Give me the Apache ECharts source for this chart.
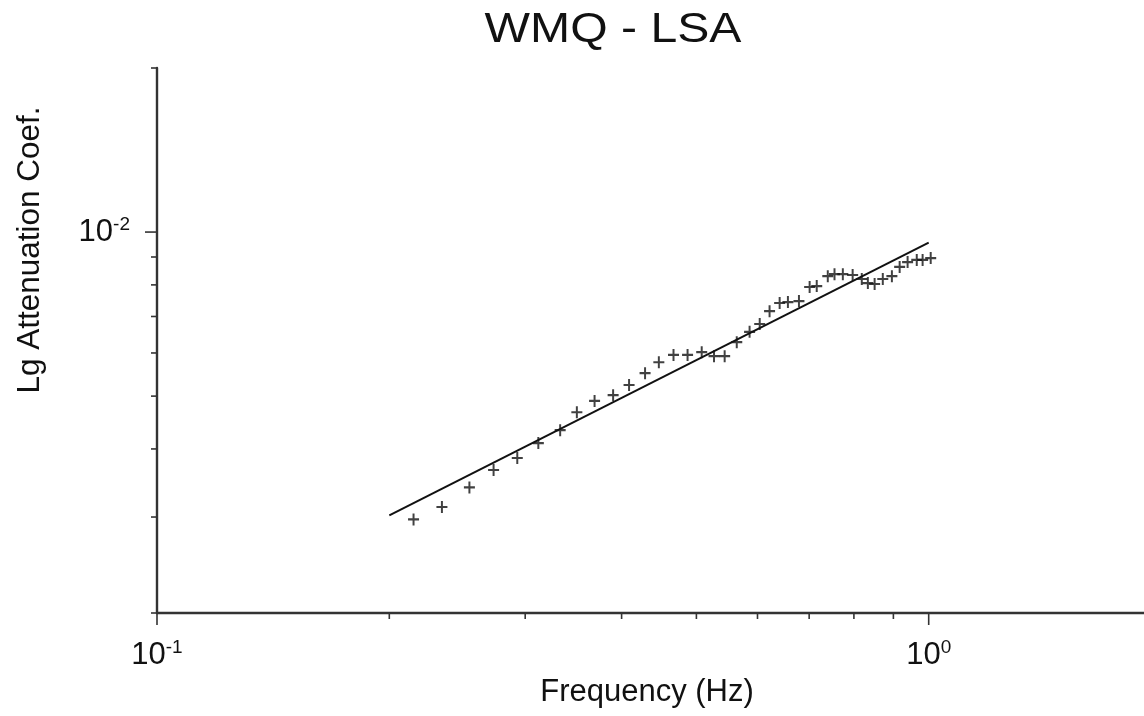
<!DOCTYPE html>
<html>
<head>
<meta charset="utf-8">
<script src="https://cdn.jsdelivr.net/npm/echarts@6/dist/echarts.min.js"></script>
<style>
html,body{margin:0;padding:0;background:#fff;}
#chart{width:1144px;height:716px;}
</style>
</head>
<body>
<div id="chart"></div>
<script>
// ---- data ----
const titleText = 'WMQ - LSA';
const xAxisTitle = 'Frequency (Hz)';
const yAxisTitle = 'Lg Attenuation Coef.';

const freq = [0.215,0.234,0.254,0.273,0.293,0.312,0.333,0.350,0.369,0.390,0.409,0.429,0.447,0.467,0.487,0.508,0.527,0.544,0.564,0.586,0.604,0.622,0.641,0.657,0.679,0.701,0.716,0.740,0.755,0.774,0.797,0.819,0.834,0.851,0.872,0.896,0.917,0.939,0.965,0.982,1.006];
const atten = [0.00297,0.00313,0.00340,0.00366,0.00385,0.00410,0.00433,0.00467,0.00490,0.00502,0.00524,0.00551,0.00577,0.00595,0.00595,0.00602,0.00592,0.00592,0.00628,0.00656,0.00678,0.00716,0.00741,0.00744,0.00747,0.00793,0.00796,0.00830,0.00837,0.00837,0.00834,0.00820,0.00806,0.00803,0.00820,0.00830,0.00863,0.00881,0.00889,0.00889,0.00896];

const fitFreq = [0.2, 1.0];
const fitAtten = [0.00302, 0.00956];

const xRange = [0.1, 2];
const yRange = [0.002, 0.02];
const xMajorTicks = [0.1, 1];
const xMinorTicks = [0.2,0.3,0.4,0.5,0.6,0.7,0.8,0.9,2];
const yMajorTicks = [0.01];
const yMinorTicks = [0.002,0.003,0.004,0.005,0.006,0.007,0.008,0.009,0.02];

// ---- chart ----
const FONT = 'Liberation Sans, Arial, Helvetica, sans-serif';
const AXIS_COLOR = '#333';
const chart = echarts.init(document.getElementById('chart'), null, {renderer:'canvas'});

function isPow10(v){
  const l = Math.log10(v);
  return Math.abs(l - Math.round(l)) < 1e-6;
}
function powLabel(v){
  if (!isPow10(v)) return '';
  return '{b|10}{s|' + Math.round(Math.log10(v)) + '}';
}
const labelRich = {
  b: {fontSize: 31, fontFamily: FONT, color: '#111', lineHeight: 34},
  s: {fontSize: 19, fontFamily: FONT, color: '#111', lineHeight: 18, verticalAlign: 'top'}
};

const xTickData = xMajorTicks.map(v => [v, 1]).concat(xMinorTicks.map(v => [v, 0]));
const yTickData = yMajorTicks.map(v => [v, 1]).concat(yMinorTicks.map(v => [v, 0]));

chart.setOption({
  animation: false,
  backgroundColor: '#fff',
  grid: {left: 157, right: -17, top: 68, bottom: 103, containLabel: false, outerBoundsMode: 'none'},
  graphic: [
    {type: 'text', x: 613, y: 30, scaleX: 1.12,
     style: {text: titleText, font: '43px ' + FONT, fill: '#111', textAlign: 'center', textVerticalAlign: 'middle'}},
    {type: 'text', x: 647, y: 692,
     style: {text: xAxisTitle, font: '31px ' + FONT, fill: '#111', textAlign: 'center', textVerticalAlign: 'middle'}},
    {type: 'text', x: 30, y: 250, rotation: Math.PI / 2,
     style: {text: yAxisTitle, font: '31.5px ' + FONT, fill: '#111', textAlign: 'center', textVerticalAlign: 'middle'}}
  ],
  xAxis: {
    type: 'log', logBase: 10, min: xRange[0], max: xRange[1],
    axisLine: {show: true, onZero: false, lineStyle: {color: AXIS_COLOR, width: 2.4}},
    axisTick: {show: false},
    minorTick: {show: false},
    splitLine: {show: false},
    axisLabel: {margin: 25, formatter: powLabel, rich: labelRich, hideOverlap: false}
  },
  yAxis: {
    type: 'log', logBase: 10, min: yRange[0], max: yRange[1],
    axisLine: {show: true, onZero: false, lineStyle: {color: AXIS_COLOR, width: 2.4}},
    axisTick: {show: false},
    minorTick: {show: false},
    splitLine: {show: false},
    axisLabel: {margin: 27, formatter: powLabel, rich: labelRich, hideOverlap: false}
  },
  series: [
    {
      name: 'fit', type: 'line', data: fitFreq.map((f, i) => [f, fitAtten[i]]),
      showSymbol: false, symbol: 'none', lineStyle: {color: '#111', width: 2}, silent: true, z: 2
    },
    {
      name: 'data', type: 'scatter', data: freq.map((f, i) => [f, atten[i]]),
      symbol: 'path://M0,4.1H10V5.9H0Z M4.1,0H5.9V10H4.1Z', symbolSize: [11, 12],
      itemStyle: {color: '#111'}, silent: true, z: 3
    },
    {
      name: 'xticks', type: 'custom', coordinateSystem: 'cartesian2d', clip: false, silent: true,
      data: xTickData,
      renderItem: function(params, api){
        const p = api.coord([api.value(0), yRange[0]]);
        const len = api.value(1) ? 12 : 6;
        return {type: 'line', shape: {x1: p[0], y1: p[1], x2: p[0], y2: p[1] + len},
                style: {stroke: AXIS_COLOR, lineWidth: 1.6}};
      }
    },
    {
      name: 'yticks', type: 'custom', coordinateSystem: 'cartesian2d', clip: false, silent: true,
      encode: {x: 1, y: 0},
      data: yTickData.map(d => [d[0], xRange[0], d[1]]),
      renderItem: function(params, api){
        const p = api.coord([xRange[0], api.value(0)]);
        const len = api.value(2) ? 12 : 6;
        return {type: 'line', shape: {x1: p[0], y1: p[1], x2: p[0] - len, y2: p[1]},
                style: {stroke: AXIS_COLOR, lineWidth: 1.6}};
      }
    }
  ]
});
</script>
</body>
</html>
